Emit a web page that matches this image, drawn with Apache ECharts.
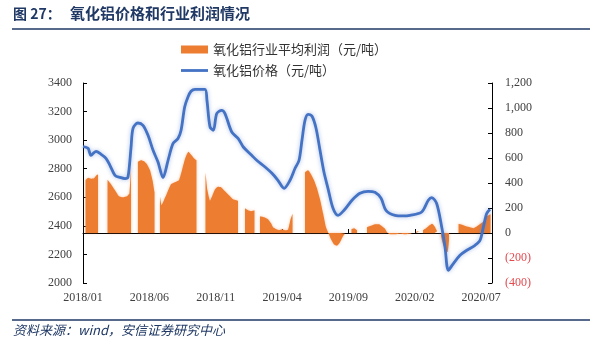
<!DOCTYPE html>
<html><head><meta charset="utf-8">
<script src="https://cdn.jsdelivr.net/npm/echarts@6/dist/echarts.min.js"></script>
<style>html,body{margin:0;padding:0;background:#fff}#c{width:600px;height:345px}</style>
</head><body><div id="c"></div><script>
// x positions are months since 2018/01
const xTickLabels = ['2018/01','2018/06','2018/11','2019/04','2019/09','2020/02','2020/07'];
const priceName = '氧化铝价格（元/吨）';
const profitName = '氧化铝行业平均利润（元/吨）';

const priceMonths = [0,0.38,0.60,0.98,1.36,1.73,2.03,2.41,2.79,3.17,3.39,3.62,3.77,4.14,4.52,4.90,5.28,5.65,6.03,6.41,6.78,7.16,7.39,7.66,7.91,8.14,8.44,9.19,9.34,9.57,9.82,10.08,10.45,10.70,11.21,11.70,12.08,12.71,13.09,13.72,14.24,14.69,15.15,15.60,15.98,16.28,16.50,16.73,16.96,17.26,17.56,17.86,18.16,18.46,18.84,19.22,19.67,20.27,20.87,21.48,22.00,22.46,22.83,23.51,24.10,24.64,25.52,26.02,26.28,26.65,27.03,27.28,27.53,27.91,28.41,28.92,29.54,29.92,30.17,30.42,30.67];
const priceValues = [2955,2943,2894,2922,2901,2873,2824,2754,2739,2731,2742,2950,3083,3120,3104,3034,2929,2847,2738,2859,2976,3011,3069,3232,3302,3342,3356,3356,3279,3093,3069,3186,3209,3186,3057,3011,2952,2894,2859,2812,2768,2719,2663,2719,2803,2859,2999,3139,3181,3167,3083,2929,2775,2663,2523,2474,2509,2579,2628,2642,2635,2593,2509,2474,2470,2474,2497,2579,2598,2556,2392,2252,2089,2136,2194,2229,2264,2299,2392,2486,2516];

const profitMonths = [0.19,0.38,0.60,0.83,1.02,1.13,1.4,1.85,2.11,2.41,2.71,3.01,3.32,3.50,3.62,3.9,4.14,4.37,4.60,4.82,5.05,5.24,5.39,5.6,5.80,5.92,6.10,6.33,6.63,6.93,7.23,7.46,7.69,7.94,8.18,8.36,8.55,8.9,9.23,9.38,9.57,9.76,9.95,10.17,10.40,10.70,11.00,11.30,11.53,11.68,12.0,12.21,12.43,12.66,12.92,13.1,13.34,13.64,13.94,14.17,14.32,14.58,14.77,15.00,15.22,15.45,15.64,15.79,16.2,16.73,16.96,17.18,17.41,17.63,17.86,18.09,18.31,18.50,18.69,18.91,19.14,19.37,19.59,19.74,20.0,20.23,20.42,20.65,21.0,21.40,21.70,22.00,22.31,22.53,22.76,22.91,23.13,23.51,23.89,24.27,24.64,24.80,24.95,25.09,25.36,25.5,25.62,25.85,26.07,26.30,26.49,26.68,26.85,26.98,27.13,27.32,27.47,27.58,27.9,28.30,28.56,28.86,29.16,29.42,29.69,29.95,30.22,30.44,30.71];
const profitValues = [422,442,434,438,462,470,null,426,390,342,294,286,294,318,534,null,570,582,574,550,502,422,326,null,294,222,262,318,390,406,422,502,594,650,622,598,582,null,486,342,258,302,350,370,366,334,302,270,262,258,null,198,182,174,182,null,134,126,110,78,46,30,22,30,22,26,110,154,null,486,502,470,422,358,270,158,46,-2,-50,-90,-102,-74,-26,-6,null,30,38,22,null,46,58,70,70,54,34,6,-10,-10,-6,-10,-6,-2,null,10,14,null,22,38,58,74,54,14,null,-26,-90,-138,-154,-58,null,74,66,54,46,38,54,74,94,134,150];

const priceData = priceMonths.map((m, i) => [m, priceValues[i]]);
const profitData = profitMonths.map((m, i) => [m, profitValues[i] === null ? '-' : profitValues[i]]);

const serif = '"Liberation Serif","Times New Roman",serif';
const cjk = '"Noto Sans CJK SC","Noto Sans",sans-serif';
const chart = echarts.init(document.getElementById('c'));
chart.setOption({
  animation: false,
  backgroundColor: '#fff',
  grid: {left: 83, right: 108, top: 83, bottom: 62},
  legend: {
    orient: 'vertical', left: 176, top: 38, itemWidth: 27, itemHeight: 8, itemGap: 8,
    textStyle: {fontFamily: cjk, fontSize: 13, color: '#333'},
    data: [{name: profitName, icon: 'rect'}, {name: priceName, icon: 'path://M0,0 L27,0 L27,2.8 L0,2.8 Z'}]
  },
  xAxis: {
    type: 'value', min: 0, max: 30.82, interval: 5,
    axisLine: {lineStyle: {color: '#000', width: 1}},
    axisTick: {inside: true, length: 4, lineStyle: {color: '#000'}},
    splitLine: {show: false},
    axisLabel: {
      showMaxLabel: false, margin: 9, fontFamily: serif, fontSize: 12, color: '#404040',
      formatter: v => (Math.abs(v / 5 - Math.round(v / 5)) < 1e-6 && xTickLabels[Math.round(v / 5)]) || ''
    }
  },
  yAxis: [{
    type: 'value', min: 2000, max: 3400, interval: 200, position: 'left',
    axisLine: {show: true, lineStyle: {color: '#000'}},
    axisTick: {show: true, inside: true, length: 4, lineStyle: {color: '#000'}},
    splitLine: {show: false},
    axisLabel: {margin: 11, fontFamily: serif, fontSize: 12, color: '#404040', formatter: v => String(v)}
  }, {
    type: 'value', min: -400, max: 1200, interval: 200, position: 'right',
    axisLine: {show: true, lineStyle: {color: '#000'}},
    axisTick: {show: true, inside: true, length: 4, lineStyle: {color: '#000'}},
    splitLine: {show: false},
    axisLabel: {
      margin: 13, fontFamily: serif, fontSize: 12,
      color: v => (Number(v) < 0 ? '#e34a4f' : '#404040'),
      formatter: v => v < 0 ? '(' + Math.abs(v) + ')' : v.toLocaleString('en-US')
    }
  }],
  series: [{
    name: profitName, type: 'line', yAxisIndex: 1, data: profitData,
    symbol: 'none', smooth: 0.15, connectNulls: false,
    lineStyle: {width: 0, color: '#ED7D31'},
    itemStyle: {color: '#ED7D31'},
    areaStyle: {color: '#ED7D31', opacity: 1, shadowBlur: 3, shadowColor: 'rgba(237,125,49,0.45)'}
  }, {
    name: priceName, type: 'line', yAxisIndex: 0, data: priceData,
    symbol: 'none', smooth: 0.3,
    itemStyle: {color: '#4472C4'},
    lineStyle: {width: 2.8, color: '#4472C4', shadowBlur: 4, shadowColor: 'rgba(68,114,196,0.45)'}
  }],
  graphic: [
    {type: 'text', left: 13, top: 7, style: {
      text: '图 27：', font: 'bold 14px "Noto Sans CJK SC"', fill: '#1f3864'
    }},
    {type: 'text', left: 70, top: 6, style: {
      text: '氧化铝价格和行业利润情况', font: 'bold 15px "Noto Sans CJK SC"', fill: '#1f3864'
    }},
    {type: 'line', shape: {x1: 12, y1: 29, x2: 590, y2: 29}, style: {stroke: '#1f3864', lineWidth: 1.5}},
    {type: 'line', shape: {x1: 12, y1: 320, x2: 590, y2: 320}, style: {stroke: '#1f3864', lineWidth: 1.5}},
    {type: 'text', left: 13, top: 324, style: {
      text: '资料来源：wind，安信证券研究中心',
      font: 'italic 13px "Noto Sans CJK SC"', fill: '#1f3864'
    }}
  ]
});
</script></body></html>
